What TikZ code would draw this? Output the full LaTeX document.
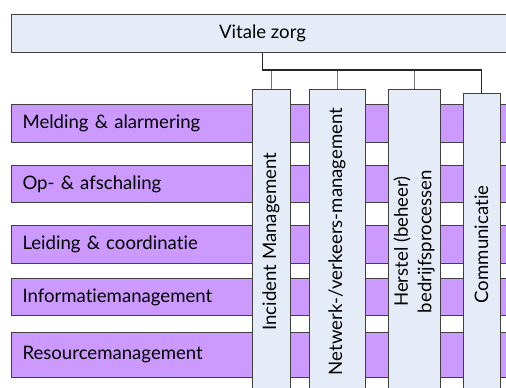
\documentclass[tikz,border=0pt]{standalone}
\usepackage{fontspec}
\setmainfont{Lato}[Ligatures={NoCommon,NoContextual}]
\definecolor{zorgblue}{HTML}{E6ECF7}
\definecolor{procpurple}{HTML}{CC99FF}
\begin{document}
\begin{tikzpicture}[x=1pt,y=-1pt,font=\fontsize{18.6}{23.5}\selectfont,
    bar/.style={draw=black!75, fill=procpurple, line width=1pt, anchor=north west, minimum width=500pt, text width=478pt, inner xsep=11pt, align=left},
    column/.style={draw=black!75, fill=zorgblue, line width=1pt, rotate=90, anchor=east, minimum width=304pt, align=center, inner sep=1pt},
    trunk/.style={draw=black!85, line width=1.2pt},
    branch/.style={draw=black!55, line width=1pt}]
    \useasboundingbox (0,0) rectangle (506,388);
    \clip (0,0) rectangle (506,388);
    \node [draw=black!75, fill=zorgblue, line width=1pt, anchor=north west, minimum width=502pt, minimum height=38pt] (vz) at (11,14) {Vitale zorg};
    % processen
    \node [bar, minimum height=38pt] (melding) at (11,104) {Melding \& alarmering};
    \node [bar, minimum height=37pt] (opaf) at (11,165) {Op- \& afschaling};
    \node [bar, minimum height=38pt] (leiding) at (11,225) {Leiding \& coordinatie};
    \node [bar, minimum height=37pt] (info) at (11,278) {Informatiemanagement};
    \node [bar, minimum height=45pt] (resource) at (11,332) {Resourcemanagement};
    % kolommen
    \node [column, minimum height=38pt] (im) at (271,89) {Incident Management};
    \node [column, minimum height=56pt] (nvm) at (337,89) {Netwerk-/verkeers-management};
    \node [column, minimum height=52pt] (herstel) at (414,89) {Herstel (beheer)\\bedrijfsprocessen};
    \node [column, minimum height=37pt, minimum width=302pt] (comm) at (481.5,93) {Communicatie};
    \coordinate (bus) at (263,70);
    \draw [branch] (im.east) -- (im.east |- bus);
    \draw [branch] (nvm.east) -- (nvm.east |- bus);
    \draw [branch] (herstel.east) -- (herstel.east |- bus);
    \draw [trunk] (vz.south) -- (vz.south |- bus) -| (comm.east);
\end{tikzpicture}
\end{document}
